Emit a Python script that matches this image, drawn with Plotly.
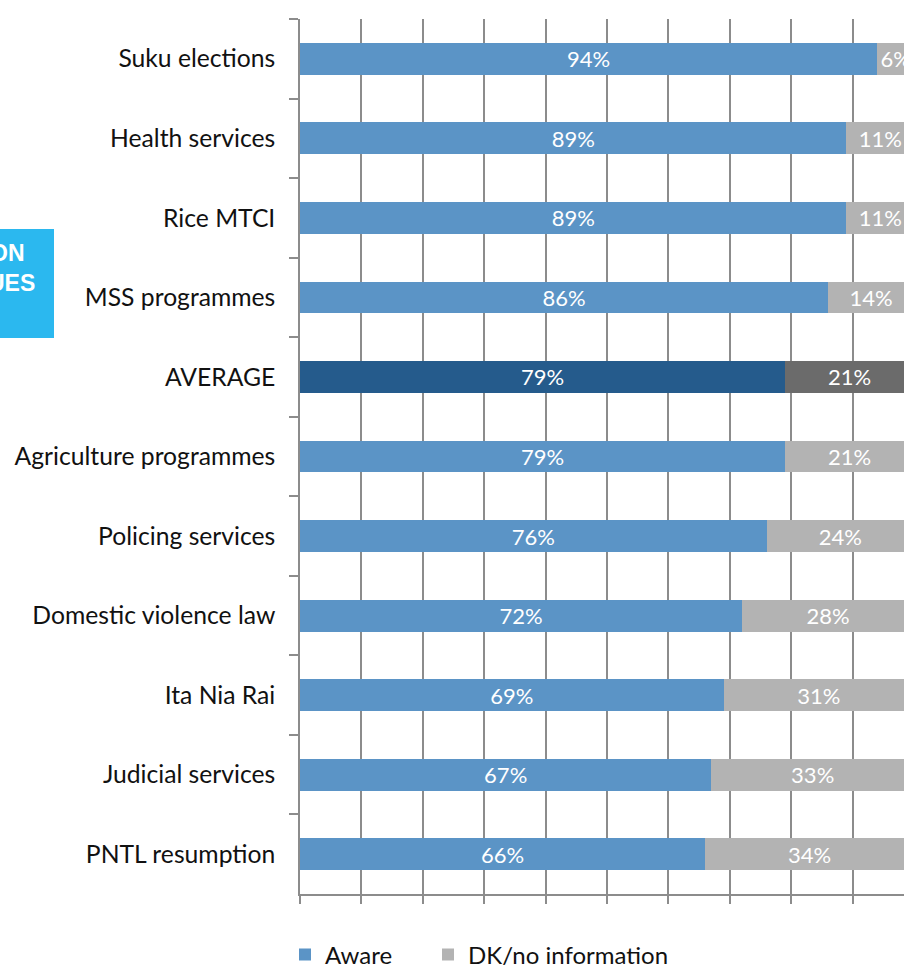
import plotly.graph_objects as go

categories = ["Suku elections", "Health services", "Rice MTCI", "MSS programmes", "AVERAGE",
              "Agriculture programmes", "Policing services", "Domestic violence law",
              "Ita Nia Rai", "Judicial services", "PNTL resumption"]
aware = [94, 89, 89, 86, 79, 79, 76, 72, 69, 67, 66]
dk = [6, 11, 11, 14, 21, 21, 24, 28, 31, 33, 34]
series_names = ["Aware", "DK/no information"]

W, H = 904, 968
L, R, T, B = 300, 0, 19, 74
PW, PH = W - L - R, H - T - B
PX_PER_PCT = 6.14
XMAX = PW / PX_PER_PCT

def px2x(px):
    return (px - L) / PW

def px2y(py):
    return (H - B - py) / PH

blue, blue_avg = "#5B94C6", "#255B8C"
gray, gray_avg = "#B3B3B3", "#6B6B6B"
c_aware = [blue_avg if c == "AVERAGE" else blue for c in categories]
c_dk = [gray_avg if c == "AVERAGE" else gray for c in categories]

fontfam = "Lato, 'Open Sans', sans-serif"

fig = go.Figure()
for vals, cols, name, lg in [(aware, c_aware, series_names[0], "legend"),
                             (dk, c_dk, series_names[1], "legend2")]:
    fig.add_trace(go.Bar(
        y=categories, x=vals, orientation="h", name=name, legend=lg,
        marker=dict(color=cols, line=dict(width=0)),
        texttemplate="%{x}%", textposition="inside", insidetextanchor="middle",
        textangle=0, constraintext="none",
        textfont=dict(color="white", size=22, family=fontfam),
    ))

axis_col = "#8C8C8C"
legend_common = dict(orientation="h", xanchor="left", y=px2y(955), yanchor="middle",
                     font=dict(size=24, family=fontfam, color="#111111"),
                     bgcolor="rgba(0,0,0,0)")
fig.update_layout(
    width=W, height=H, barmode="stack", bargap=0.6,
    margin=dict(l=L, r=R, t=T, b=B, pad=0, autoexpand=False),
    paper_bgcolor="white", plot_bgcolor="white",
    font=dict(family=fontfam, size=24, color="#111111"),
    xaxis=dict(range=[0, XMAX], dtick=10, tick0=0, showgrid=True, gridcolor=axis_col,
               gridwidth=1.5, showticklabels=False, ticks="outside", ticklen=8,
               tickwidth=1.5, tickcolor=axis_col, showline=True, linecolor=axis_col,
               linewidth=1.5, zeroline=False, automargin=False),
    yaxis=dict(type="category", autorange="reversed", tickson="boundaries",
               ticks="outside", ticklen=9, tickwidth=1.5, tickcolor=axis_col,
               showline=True, linecolor=axis_col, linewidth=1.5, showgrid=False,
               automargin=False, ticklabelstandoff=18,
               tickfont=dict(size=24.7, family=fontfam, color="#111111")),
    legend=dict(x=px2x(285), **legend_common),
    legend2=dict(x=px2x(428), **legend_common),
    showlegend=True,
)

fig.add_shape(type="rect", xref="paper", yref="paper",
              x0=px2x(-20), x1=px2x(54), y0=px2y(338), y1=px2y(229),
              fillcolor="#2BB8EF", line=dict(width=0), layer="above")
fig.add_annotation(text="<b>ON</b>", xref="paper", yref="paper", x=px2x(27), y=px2y(252.5),
                   xanchor="right", yanchor="middle", showarrow=False,
                   font=dict(family="Liberation Sans, Arial", size=23, color="white"))
fig.add_annotation(text="<b>UES</b>", xref="paper", yref="paper", x=px2x(37), y=px2y(282.5),
                   xanchor="right", yanchor="middle", showarrow=False,
                   font=dict(family="Liberation Sans, Arial", size=23, color="white"))

fig.write_html("out.html", config={"displayModeBar": False},
               post_script="document.body.style.margin='0';document.body.style.overflow='hidden';")
